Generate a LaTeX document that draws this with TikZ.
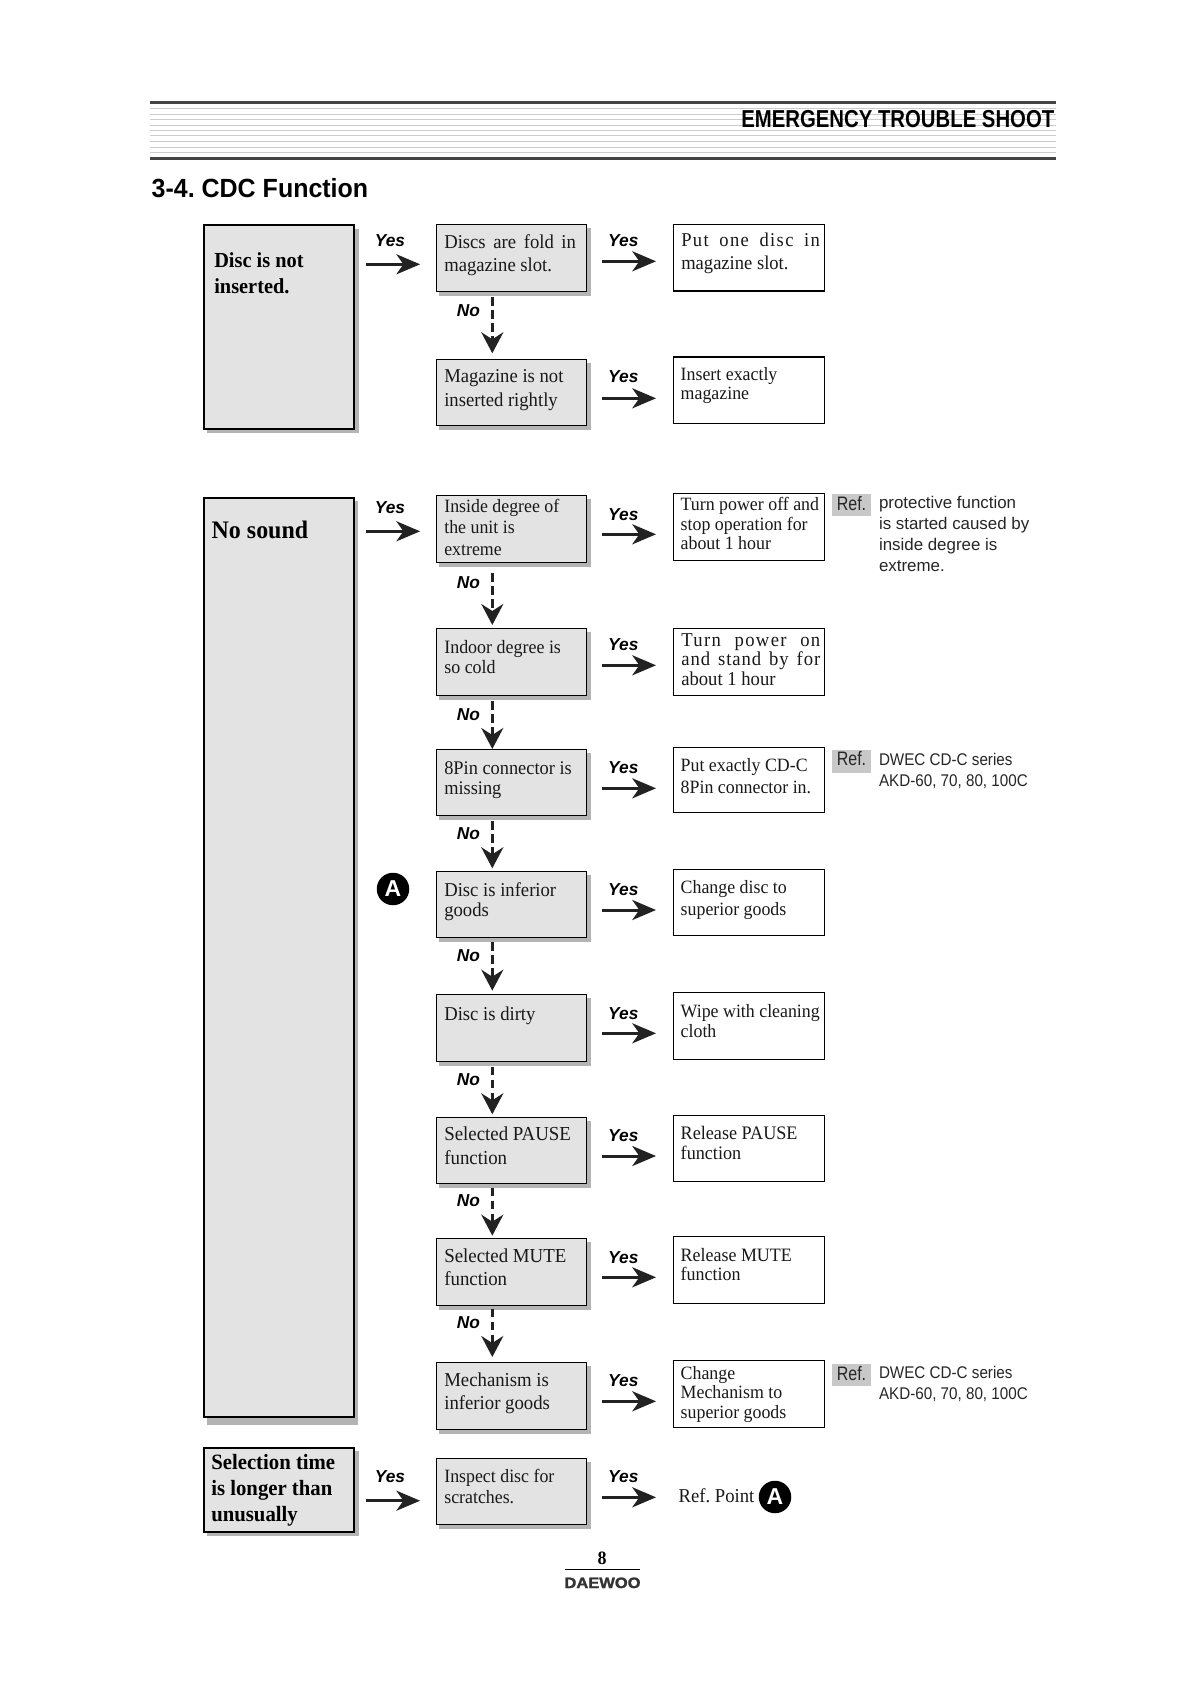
\documentclass[tikz,border=0pt]{standalone}
\usepackage{fontspec}
\usetikzlibrary{arrows.meta}
\setmainfont[FakeStretch=0.95,Scale=1.05]{Liberation Serif}
\newfontfamily\sfn{Liberation Sans}
\newfontfamily\sfc[FakeStretch=0.9]{Liberation Sans}
\newfontfamily\sfr[FakeStretch=0.82]{Liberation Sans}
\newfontfamily\sfh[FakeStretch=0.83]{Liberation Sans}
\newfontfamily\sft[FakeStretch=0.95]{Liberation Sans}
\newfontfamily\sfw[FakeStretch=1.1,FakeBold=1.5]{Liberation Sans}
\definecolor{boxfill}{HTML}{E3E3E3}
\definecolor{shadowgrey}{HTML}{B4B4B4}
\definecolor{stripe}{HTML}{CCCCCC}
\definecolor{bar}{HTML}{444444}
\definecolor{ink}{HTML}{222222}
\definecolor{reffill}{HTML}{C8C8C8}
\tikzset{
  boxbase/.style={rectangle,inner sep=0pt,outer sep=0pt,draw=black},
  leftbox/.style={boxbase,fill=boxfill,line width=2.3pt},
  midbox/.style={boxbase,fill=boxfill,line width=1.2pt},
  rightbox/.style={boxbase,fill=white,line width=1.2pt},
  ttxt/.style={inner sep=0pt,outer sep=0pt,anchor=base west,text=black!90,font=\fontsize{#1}{#1}\selectfont},
  btxt/.style={inner sep=0pt,outer sep=0pt,anchor=base west,text=black,font=\bfseries\fontsize{#1}{#1}\selectfont},
  reftxt/.style={inner sep=0pt,outer sep=0pt,anchor=base west,text=black!85,font=\sfc\fontsize{16.9}{16.9}\selectfont},
  yeslab/.style={inner sep=0pt,outer sep=0pt,anchor=base,text=black,font=\sfn\bfseries\itshape\fontsize{17.3}{17.3}\selectfont},
  reftag/.style={rectangle,fill=reffill,inner sep=0pt,outer sep=0pt,minimum width=39pt,minimum height=22.3pt},
  reflab/.style={inner sep=0pt,outer sep=0pt,anchor=base,text=black!85,font=\sfr\fontsize{19.5}{19.5}\selectfont},
  badge/.style={circle,fill=black,text=white,inner sep=0pt,outer sep=0pt,minimum size=32.5pt,font=\sfn\bfseries\fontsize{23}{23}\selectfont},
  solidarr/.style={draw=ink,line width=3pt,-{Stealth[length=23.7pt,width=20pt,inset=7pt,fill=ink]}},
  dasharr/.style={draw=ink,line width=3pt,dash pattern=on 8.5pt off 4.5pt,-{Stealth[length=21pt,width=22pt,inset=7pt,fill=ink]}},
}
\newcommand{\vl}[2]{\vtop{\baselineskip=#1pt\relax #2}}
\newcommand{\shbox}[6]{% name,style,x0,y0,x1,y1
  \fill[shadowgrey] (#3+3,#4+3.7) rectangle (#5+4.3,#6+4.3);
  \node[#2,minimum width={(#5-#3)*1pt},minimum height={(#6-#4)*1pt}] (#1) at ({(#3+#5)/2},{(#4+#6)/2}) {};}
\newcommand{\plainbox}[6]{%
  \node[#2,minimum width={(#5-#3)*1pt},minimum height={(#6-#4)*1pt}] (#1) at ({(#3+#5)/2},{(#4+#6)/2}) {};}
\newcommand{\yesA}[3]{\draw[solidarr,shorten <=11.7pt,shorten >=16.3pt] (#1.east |- 0,#3) -- (#2.west |- 0,#3);}
\newcommand{\yesB}[3]{\draw[solidarr,shorten <=15.3pt,shorten >=17.3pt] (#1.east |- 0,#3) -- (#2.west |- 0,#3);}
\newcommand{\noarr}[4]{\draw[dasharr,shorten <=#3pt,shorten >=#4pt] (cx |- #1.south) -- (cx |- #2.north);}
\frenchspacing
\begin{document}
\begin{tikzpicture}[x=1pt,y=-1pt]
\useasboundingbox (0,0) rectangle (1191,1684);
\fill[white] (0,0) rectangle (1191,1684);
\coordinate (cx) at (492.3,0);
% header
\foreach \yy in {108.3,114,119.3,125,130.3,135.7,141.3,147.3,152.3}
  \draw[stripe,line width=1pt] (150,\yy) -- (1056,\yy);
\draw[bar,line width=3pt] (150,102.5) -- (1056,102.5);
\draw[bar,line width=3pt] (150,158.5) -- (1056,158.5);
\node[inner sep=0pt,anchor=base east,font=\sfh\bfseries\fontsize{24.5}{24.5}\selectfont] (hdr) at (1054.5,127.7) {EMERGENCY TROUBLE SHOOT};
\node[inner sep=0pt,anchor=base west,font=\sft\bfseries\fontsize{26.3}{26.3}\selectfont] (ttl) at (151.5,197.3) {3-4. CDC Function};
% left boxes
\shbox{l1}{leftbox}{203.7}{225}{354.3}{429}
\fill[shadowgrey] (206.7,501) rectangle (358,1425.3);
\plainbox{l2}{leftbox}{203.7}{497.7}{354.3}{1417}
\shbox{l3}{leftbox}{203.7}{1447.7}{354.3}{1532}
\node[btxt=20.4] (tl1) at (214.3,267.3) {\vl{26}{\hbox{Disc is not}\hbox{inserted.}}};
\node[btxt=24] (tl2) at (211.7,538.3) {No sound};
\node[btxt=20.8] (tl3) at (211.3,1469.3) {\vl{25.9}{\hbox{Selection time}\hbox{is longer than}\hbox{unusually}}};
% middle boxes
\shbox{m1}{midbox}{436.4}{224.5}{586.7}{291.5}
\shbox{m2}{midbox}{436.4}{359.5}{586.7}{425.5}
\shbox{m3}{midbox}{436.4}{495.3}{586.7}{562.3}
\shbox{m4}{midbox}{436.4}{628.7}{586.7}{695.3}
\shbox{m5}{midbox}{436.4}{749.7}{586.7}{815.3}
\shbox{m6}{midbox}{436.4}{871.3}{586.7}{937.3}
\shbox{m7}{midbox}{436.4}{994.3}{586.7}{1061.3}
\shbox{m8}{midbox}{436.4}{1117.3}{586.7}{1183.3}
\shbox{m9}{midbox}{436.4}{1238.3}{586.7}{1305.3}
\shbox{m10}{midbox}{436.4}{1362.3}{586.7}{1429.3}
\shbox{m11}{midbox}{436.4}{1458.3}{586.7}{1524.3}
\node[ttxt=18.7] (tm1) at (444.3,248.3) {\vl{23.4}{\hbox to 131.7pt{Discs\hfil are\hfil fold\hfil in}\hbox{magazine slot.}}};
\node[ttxt=18.7] (tm2) at (444.3,382.7) {\vl{23.6}{\hbox{Magazine is not}\hbox{inserted rightly}}};
\node[ttxt=17.9] (tm3) at (444.3,512.3) {\vl{21.5}{\hbox{Inside degree of}\hbox{the unit is}\hbox{extreme}}};
\node[ttxt=18] (tm4) at (444.3,653.3) {\vl{20}{\hbox{Indoor degree is}\hbox{so cold}}};
\node[ttxt=18.4] (tm5) at (444.3,774.7) {\vl{19.7}{\hbox{8Pin connector is}\hbox{missing}}};
\node[ttxt=18.7] (tm6) at (444.3,896.7) {\vl{20}{\hbox{Disc is inferior}\hbox{goods}}};
\node[ttxt=18.7] (tm7) at (444.3,1020.7) {Disc is dirty};
\node[ttxt=18.9] (tm8) at (444.3,1140.7) {\vl{23.3}{\hbox{Selected PAUSE}\hbox{function}}};
\node[ttxt=18.9] (tm9) at (444.3,1262.3) {\vl{23}{\hbox{Selected MUTE}\hbox{function}}};
\node[ttxt=18.8] (tm10) at (444.3,1386.3) {\vl{23}{\hbox{Mechanism is}\hbox{inferior goods}}};
\node[ttxt=17.9] (tm11) at (444.3,1482.3) {\vl{21}{\hbox{Inspect disc for}\hbox{scratches.}}};
% right boxes
\plainbox{r1}{rightbox}{673.3}{224.5}{824.7}{291}
\plainbox{r2}{rightbox}{673.3}{357}{824.7}{423.5}
\plainbox{r3}{rightbox}{673.3}{493.3}{824.7}{560.3}
\plainbox{r4}{rightbox}{673.3}{628.3}{824.7}{695.3}
\plainbox{r5}{rightbox}{673.3}{747.3}{824.7}{812.5}
\plainbox{r6}{rightbox}{673.3}{869.3}{824.7}{935.3}
\plainbox{r7}{rightbox}{673.3}{992.3}{824.7}{1059.3}
\plainbox{r8}{rightbox}{673.3}{1115.7}{824.7}{1181.3}
\plainbox{r9}{rightbox}{673.3}{1236.3}{824.7}{1303.3}
\plainbox{r10}{rightbox}{673.3}{1360.3}{824.7}{1427.3}
\node[ttxt=18.6] (tr1) at (681.3,246) {\vl{23.3}{\hbox to 138.7pt{\addfontfeature{LetterSpace=7}Put\hfil one\hfil disc\hfil in}\hbox{magazine slot.}}};
\node[ttxt=17.9] (tr2) at (680.7,380) {\vl{19}{\hbox{Insert exactly}\hbox{magazine}}};
\node[ttxt=17.9] (tr3) at (680.7,510.7) {\vl{19.3}{\hbox{Turn power off and}\hbox{stop operation for}\hbox{about 1 hour}}};
\node[ttxt=18.7] (tr4) at (681.3,646) {\vl{19.5}{\hbox to 139pt{\addfontfeature{LetterSpace=7}Turn\hfil power\hfil on}\hbox to 139pt{\addfontfeature{LetterSpace=5}and\hfil stand\hfil by\hfil for}\hbox{about 1 hour}}};
\node[ttxt=17.9] (tr5) at (680.7,771.7) {\vl{21.6}{\hbox{Put exactly CD-C}\hbox{8Pin connector in.}}};
\node[ttxt=17.9] (tr6) at (680.7,893.3) {\vl{21.7}{\hbox{Change disc to}\hbox{superior goods}}};
\node[ttxt=17.9] (tr7) at (680.7,1017.3) {\vl{20.4}{\hbox{Wipe with cleaning}\hbox{cloth}}};
\node[ttxt=18.2] (tr8) at (680.7,1139) {\vl{20}{\hbox{Release PAUSE}\hbox{function}}};
\node[ttxt=18] (tr9) at (680.7,1261) {\vl{19}{\hbox{Release MUTE}\hbox{function}}};
\node[ttxt=17.9] (tr10) at (680.7,1379.3) {\vl{19.5}{\hbox{Change}\hbox{Mechanism to}\hbox{superior goods}}};
\node[ttxt=18.7] (tref) at (678.7,1502) {Ref. Point};
\node[badge] (a2) at (775,1497) {A};
\node[badge] (a1) at (393,889) {A};
% ref notes
\node[reftag] (g1) at (851.5,504.8) {};
\node[reftag] (g2) at (851.5,761.5) {};
\node[reftag] (g3) at (851.5,1375.3) {};
\node[reflab] (gl1) at (851.5,510.7) {Ref.};
\node[reflab] (gl2) at (851.5,765.7) {Ref.};
\node[reflab] (gl3) at (851.5,1380) {Ref.};
\node[reftxt] (n1) at (879,508.3) {\sfn\fontsize{16.9}{16.9}\selectfont\vl{21.2}{\hbox{protective function}\hbox{is started caused by}\hbox{inside degree is}\hbox{extreme.}}};
\node[reftxt] (n2) at (879,765) {\vl{21}{\hbox{DWEC CD-C series}\hbox{AKD-60, 70, 80, 100C}}};
\node[reftxt] (n3) at (879,1378.3) {\vl{21}{\hbox{DWEC CD-C series}\hbox{AKD-60, 70, 80, 100C}}};
% yes arrows
\yesA{l1}{m1}{264.3}
\yesA{l2}{m3}{531.3}
\yesA{l3}{m11}{1500.7}
\yesB{m1}{r1}{261.3}
\yesB{m2}{r2}{398.3}
\yesB{m3}{r3}{534.3}
\yesB{m4}{r4}{665.3}
\yesB{m5}{r5}{788.3}
\yesB{m6}{r6}{910}
\yesB{m7}{r7}{1033.3}
\yesB{m8}{r8}{1156}
\yesB{m9}{r9}{1277.3}
\yesB{m10}{r10}{1401.3}
\draw[solidarr,shorten <=15.3pt,shorten >=22.7pt] (m11.east |- 0,1497.3) -- (tref.west |- 0,1497.3);
% no arrows
\noarr{m1}{m2}{5.8}{6.2}
\noarr{m3}{m4}{11}{3.7}
\noarr{m4}{m5}{5.7}{0.7}
\noarr{m5}{m6}{5.7}{3}
\noarr{m6}{m7}{5}{3.6}
\noarr{m7}{m8}{5.4}{3}
\noarr{m8}{m9}{4.4}{2.6}
\noarr{m9}{m10}{3.4}{5.3}
% labels
\foreach \nn/\yy in {ya1/246.7,ya3/513.7,ya11/1482.3}
  \node[yeslab] (\nn) at (390,\yy) {Yes};
\foreach \nn/\yy in {yb1/246.7,yb2/382.7,yb3/520,yb4/650,yb5/773.3,yb6/895,yb7/1019,yb8/1141,yb9/1263,yb10/1386.7,yb11/1482.3}
  \node[yeslab] (\nn) at (623.3,\yy) {Yes};
\foreach \nn/\yy in {no1/316,no3/588,no4/720,no5/839,no6/961,no7/1085,no8/1206,no9/1328}
  \node[yeslab] (\nn) at (468.3,\yy) {No};
% footer
\node[inner sep=0pt,anchor=base,font=\bfseries\fontsize{18}{18}\selectfont] (pg) at (602,1564) {8};
\draw[black,line width=1pt] (565,1569.3) -- (639.6,1569.3);
\node[inner sep=0pt,anchor=base,text=black!80,font=\sfw\bfseries\fontsize{15}{15}\selectfont] (logo) at (602.5,1588) {DAEWOO};
\end{tikzpicture}
\end{document}
